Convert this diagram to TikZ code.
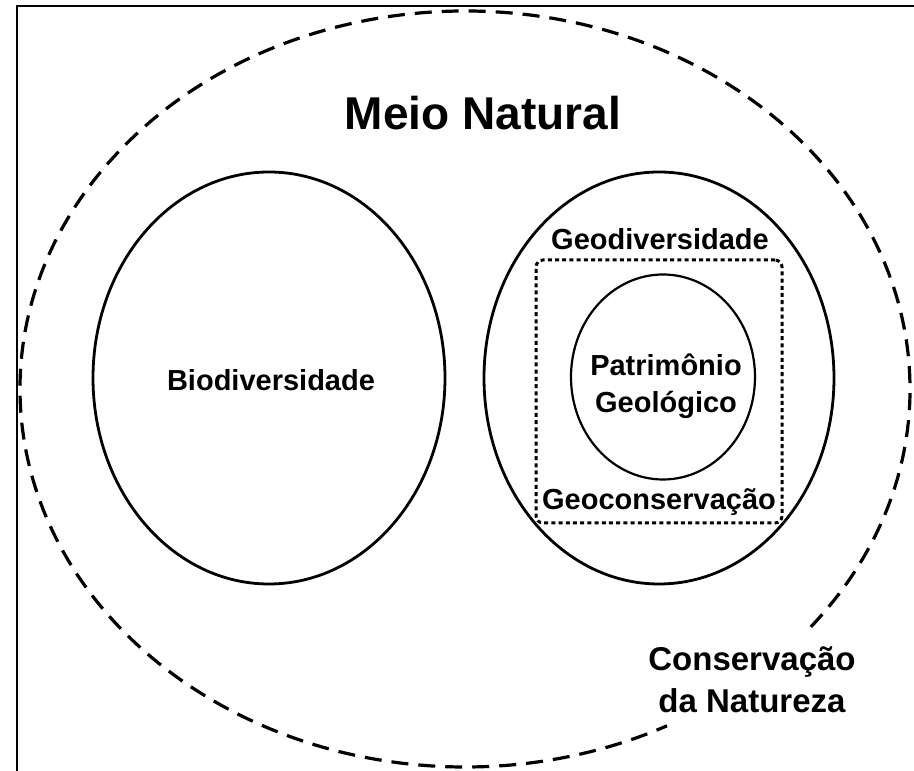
\documentclass[tikz,border=0pt]{standalone}
\usepackage{fontspec}
\setmainfont{Liberation Sans}
\usetikzlibrary{shapes.geometric}
\begin{document}
\begin{tikzpicture}[x=1pt,y=1pt,
  lbl/.style={font=\bfseries\fontsize{29}{37}\selectfont, inner sep=0pt, align=center},
  oval/.style={draw, ellipse, line width=2.8pt, inner sep=0pt},
  outerline/.style={line width=3.2pt, dash pattern=on 17pt off 10pt},
  dotbox/.style={draw, line width=3pt, dash pattern=on 4pt off 3.2pt, rounded corners=7pt}]
\useasboundingbox (0,0) rectangle (914,771);
% frame
\coordinate (fl) at (17,0);
\coordinate (ftl) at (17,765);
\coordinate (ftr) at (914,765);
\draw[line width=2.8pt] (fl) -- (ftl) -- (ftr);
% outer dashed ellipse with a gap for the label
\coordinate (oc) at (465,382);
\draw[outerline] ([shift={(-39:445 and 378)}]oc) arc[start angle=-39, end angle=297, x radius=445, y radius=378];
\node[lbl, font=\bfseries\fontsize{46}{50}\selectfont] (meio) at (483,658) {Meio Natural};
% biodiversity
\node[oval, minimum width=352pt, minimum height=412pt] (bio) at (269,393) {};
\node[lbl] (biot) at (271,391) {Biodiversidade};
% geodiversity
\node[oval, minimum width=350pt, minimum height=412pt] (geo) at (659,393) {};
\node[lbl] (geot) at (660,532) {Geodiversidade};
\node[dotbox, minimum width=246pt, minimum height=263pt, inner sep=0pt] (cons) at (659,379.5) {};
\node[lbl] (const) at (659,269) {Geoconserva\c{c}\~ao};
\node[draw, ellipse, line width=2.2pt, inner sep=0pt, minimum width=184pt, minimum height=205pt] (pat) at (663,394) {};
\node[lbl] (patt) at (666,385) {Patrim\^onio\\Geol\'ogico};
% nature conservation label
\node[lbl, font=\bfseries\fontsize{33}{42}\selectfont] (natt) at (752,91) {Conserva\c{c}\~ao\\da Natureza};
\end{tikzpicture}
\end{document}
